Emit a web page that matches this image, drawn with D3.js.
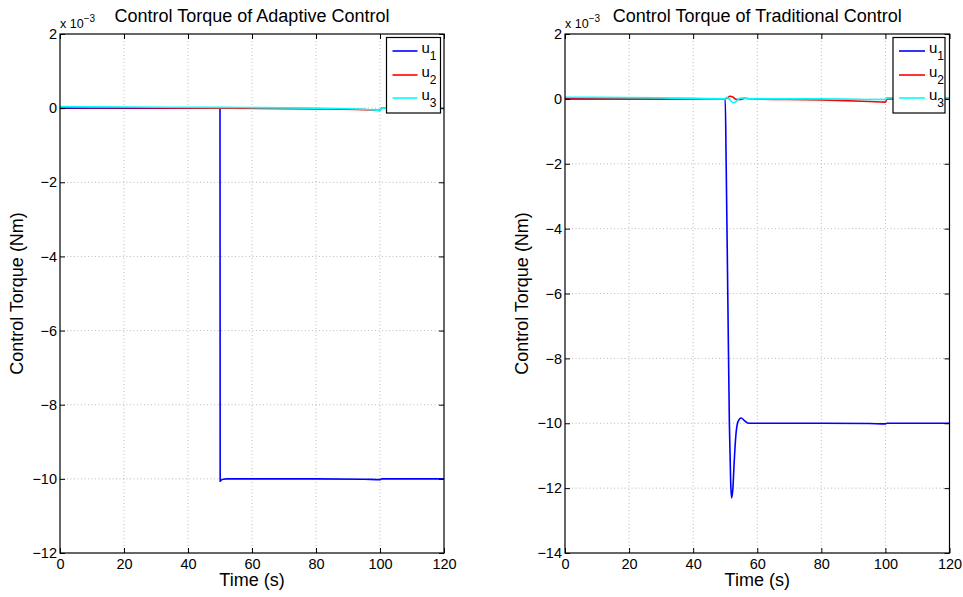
<!DOCTYPE html>
<html><head><meta charset="utf-8">
<script src="https://cdn.jsdelivr.net/npm/d3@7"></script>
<style>body{margin:0;background:#fff}svg{display:block}text{font-family:"Liberation Sans",Arial,sans-serif}</style>
</head><body>
<script>
// values in units of 10^-3 Nm
const seriesNames = ["u1","u2","u3"];
const seriesColors = ["#0000ff","#ff0000","#00ffff"];
const xTicks = [0,20,40,60,80,100,120];
const yTicksLeft = [2,0,-2,-4,-6,-8,-10,-12];
const yTicksRight = [2,0,-2,-4,-6,-8,-10,-12,-14];

// Adaptive control
const adT1 = [0,50,50.05,50.3,51,52,60,80,95,100,100.5,110,120];
const adV1 = [0,0,-10.06,-10.04,-10.01,-10.0,-10.0,-10.0,-10.01,-10.02,-10.0,-10.0,-10.0];
const adT2 = [0,20,50,80,95,100,100.5,120];
const adV2 = [0.02,0.01,0,-0.02,-0.04,-0.06,0,0];
const adT3 = [0,20,50,80,95,100,100.5,120];
const adV3 = [0.04,0.03,0.02,0,-0.03,-0.06,0,0];

// Traditional control
const trT1 = [0,50,50.3,50.8,51.3,51.7,52,52.4,52.8,53.3,54,55,56,57,58,80,95,100,100.5,120];
const trV1 = [0,0,-2,-6,-10,-11.8,-12.3,-12.0,-11.2,-10.4,-9.95,-9.84,-9.92,-9.99,-10.0,-10.0,-10.01,-10.02,-10.0,-10.0];
const trT2 = [0,30,49,50.5,51.5,52.5,53.5,55,56,58,80,95,100,100.5,120];
const trV2 = [0.03,0.01,0,0.02,0.08,0.05,-0.02,-0.02,0.02,0,-0.03,-0.08,-0.1,0,0];
const trT3 = [0,30,50,50.5,51.5,52.5,53.5,54.5,56,57,80,100,100.5,120];
const trV3 = [0.05,0.03,0,0.05,-0.03,-0.12,-0.08,0.02,0.03,0,0,-0.02,0.03,0.03];

const W = 963, H = 597;
const svg = d3.select("body").append("svg").attr("width",W).attr("height",H);

function panel(cfg){
  const g = svg.append("g");
  const x = d3.scaleLinear().domain([0,120]).range([cfg.x0,cfg.x1]);
  const y = d3.scaleLinear().domain(cfg.ydom).range([cfg.y1,cfg.y0]);
  const L=cfg.x0,R=cfg.x1,T=cfg.y0,B=cfg.y1;
  // grid
  const grid = g.append("g").attr("stroke","#a8a8a8").attr("stroke-width",0.8).attr("stroke-dasharray","1,2.5");
  xTicks.slice(1,-1).forEach(t=>grid.append("line").attr("x1",x(t)).attr("x2",x(t)).attr("y1",T).attr("y2",B));
  cfg.yticks.slice(1,-1).forEach(t=>grid.append("line").attr("x1",L).attr("x2",R).attr("y1",y(t)).attr("y2",y(t)));
  // lines
  const line = d3.line().x(d=>x(d[0])).y(d=>y(d[1])).curve(d3.curveMonotoneX);
  cfg.series.forEach((s,i)=>{
    const pts = s.t.map((t,j)=>[t,s.v[j]]);
    g.append("path").attr("d",line(pts)).attr("fill","none").attr("stroke",seriesColors[i]).attr("stroke-width",1.6);
  });
  // box
  g.append("rect").attr("x",L).attr("y",T).attr("width",R-L).attr("height",B-T).attr("fill","none").attr("stroke","#000").attr("stroke-width",1.2);
  // axes with inward ticks
  const ax = g.append("g").attr("transform",`translate(0,${B})`).call(d3.axisBottom(x).tickValues(xTicks).tickSizeInner(-5).tickSizeOuter(0).tickPadding(7));
  const axt = g.append("g").attr("transform",`translate(0,${T})`).call(d3.axisTop(x).tickValues(xTicks).tickSizeInner(-5).tickSizeOuter(0).tickFormat(""));
  const ay = g.append("g").attr("transform",`translate(${L},0)`).call(d3.axisLeft(y).tickValues(cfg.yticks).tickSizeInner(-5).tickSizeOuter(0).tickPadding(8));
  const ayr = g.append("g").attr("transform",`translate(${R},0)`).call(d3.axisRight(y).tickValues(cfg.yticks).tickSizeInner(-5).tickSizeOuter(0).tickFormat(""));
  [ax,axt,ay,ayr].forEach(a=>{a.select(".domain").remove();a.selectAll("line").attr("stroke","#000");a.selectAll("text").attr("font-size",14.5).attr("fill","#000").style("font-family",'"Liberation Sans",Arial,sans-serif');});
  ax.selectAll("text").attr("dy","0.6em");
  ay.selectAll("text").attr("x",-3);
  // exponent label
  const ex = g.append("text").attr("x",L).attr("y",T-6).attr("font-size",12.5).attr("fill","#000");
  ex.append("tspan").text("x 10");
  ex.append("tspan").attr("dy",-6).attr("font-size",10).text("−3");
  // title
  g.append("text").attr("x",(L+R)/2).attr("y",T-12).attr("text-anchor","middle").attr("font-size",18).attr("fill","#000").text(cfg.title);
  // x label
  g.append("text").attr("x",(L+R)/2).attr("y",586).attr("text-anchor","middle").attr("font-size",18).attr("fill","#000").text("Time (s)");
  // y label
  g.append("text").attr("transform",`translate(${cfg.ylabX},${(T+B)/2}) rotate(-90)`).attr("text-anchor","middle").attr("font-size",18).attr("fill","#000").text("Control Torque (Nm)");
  // legend
  const lg = g.append("g");
  lg.append("rect").attr("x",cfg.lg.x).attr("y",37.5).attr("width",cfg.lg.w).attr("height",75.5).attr("fill","#fff").attr("stroke","#000").attr("stroke-width",1.2);
  [51,75,98].forEach((yy,i)=>{
    lg.append("line").attr("x1",cfg.lg.x+6).attr("x2",cfg.lg.x+6+cfg.lg.lw).attr("y1",yy).attr("y2",yy).attr("stroke",seriesColors[i]).attr("stroke-width",1.6);
    const t = lg.append("text").attr("x",cfg.lg.x+10+cfg.lg.lw).attr("y",yy+2).attr("font-size",15).attr("fill","#000");
    t.append("tspan").text("u");
    t.append("tspan").attr("dy",7).attr("font-size",12).text(String(i+1));
  });
}

panel({x0:60,x1:444,y0:34,y1:553,ydom:[-12,2],yticks:yTicksLeft,title:"Control Torque of Adaptive Control",ylabX:23,
  series:[{t:adT1,v:adV1},{t:adT2,v:adV2},{t:adT3,v:adV3}], lg:{x:386.5,w:54,lw:25}});
panel({x0:565,x1:949.5,y0:34,y1:553,ydom:[-14,2],yticks:yTicksRight,title:"Control Torque of Traditional Control",ylabX:528,
  series:[{t:trT1,v:trV1},{t:trT2,v:trV2},{t:trT3,v:trV3}], lg:{x:893,w:52,lw:26}});
</script>
</body></html>
